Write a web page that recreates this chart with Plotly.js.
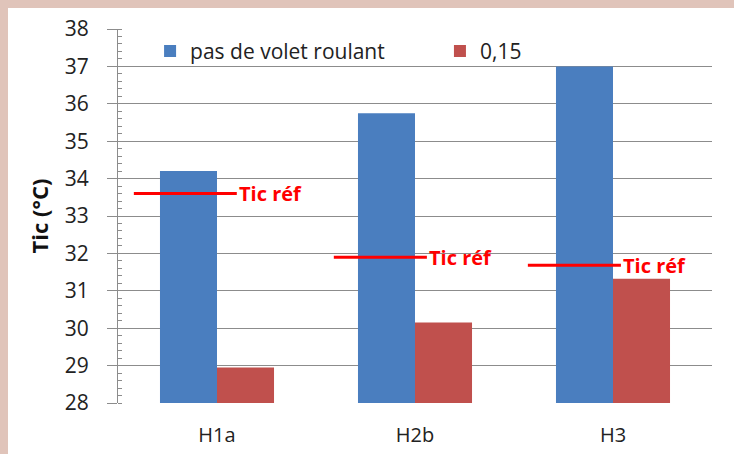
<!DOCTYPE html>
<html>
<head>
<meta charset="utf-8">
<script src="https://cdn.plot.ly/plotly-3.0.1.min.js"></script>
<style>
html,body{margin:0;padding:0;background:#e0c4ba;width:734px;height:454px;overflow:hidden;}
#chart{position:absolute;left:8px;top:8px;width:726px;height:446px;background:#fff;}
</style>
</head>
<body>
<div id="chart"></div>
<script>
const categories = ["H1a", "H2b", "H3"];
const seriesNames = ["pas de volet roulant", "0,15"];
const sansVolet = [34.2, 35.75, 37.0];
const volet015 = [28.95, 30.15, 31.32];
const ticRef = [33.6, 31.9, 31.68];
const refLabel = "Tic réf";
const yTitle = "Tic (°C)";

const FONT = "'Open Sans', Lato, sans-serif";
const traces = [
  {type: "bar", name: seriesNames[0], x: categories, y: sansVolet,
   marker: {color: "#4a7ebf"}, legend: "legend"},
  {type: "bar", name: seriesNames[1], x: categories, y: volet015,
   marker: {color: "#c0504d"}, legend: "legend2"}
];

const lineLeft = [0.42, 0.41, 0.43];
const lineRight = [0.10, 0.06, 0.04];
const shapes = ticRef.map((v, i) => ({
  type: "line", xref: "x", yref: "y",
  x0: i - lineLeft[i], x1: i + lineRight[i], y0: v, y1: v,
  line: {color: "#ff0000", width: 3}
}));
const annotations = ticRef.map((v, i) => ({
  xref: "x", yref: "y", x: i + lineRight[i], y: v,
  text: "<b>" + refLabel + "</b>", showarrow: false,
  xanchor: "left", yanchor: "middle", xshift: 0,
  font: {family: FONT, size: 20, color: "#ff0000"}
}));

const legendBase = {orientation: "h", y: 0.995, xanchor: "left", yanchor: "top",
  bgcolor: "rgba(0,0,0,0)", font: {family: FONT, size: 21, color: "#222"}};

const layout = {
  width: 726, height: 446,
  margin: {l: 110, r: 22, t: 21, b: 51},
  paper_bgcolor: "#ffffff", plot_bgcolor: "#ffffff",
  font: {family: FONT, color: "#222", size: 20},
  barmode: "group", bargap: 0.424, bargroupgap: 0,
  showlegend: true,
  legend: Object.assign({}, legendBase, {x: 0.054}),
  legend2: Object.assign({}, legendBase, {x: 0.542}),
  xaxis: {type: "category", showgrid: false, zeroline: false,
          showline: false, ticks: "", ticklabelstandoff: 18,
          tickfont: {size: 20, color: "#222"}},
  yaxis: {range: [28, 38], dtick: 1, tick0: 28, showgrid: true, gridcolor: "#8c8c8c",
          gridwidth: 1, showline: true, linecolor: "#8c8c8c", linewidth: 1,
          ticks: "outside", ticklen: 10, tickcolor: "#8c8c8c", zeroline: false,
          ticklabelstandoff: 14,
          tickfont: {size: 21, color: "#222"},
          minor: {ticks: "inside", ticklen: 4, dtick: 0.2, tickcolor: "#8c8c8c", showgrid: false},
          title: {text: "<b>" + yTitle + "</b>", font: {size: 22, color: "#111"}, standoff: 10}},
  shapes: shapes,
  annotations: annotations
};
Plotly.newPlot("chart", traces, layout, {displayModeBar: false, staticPlot: true});
</script>
</body>
</html>
